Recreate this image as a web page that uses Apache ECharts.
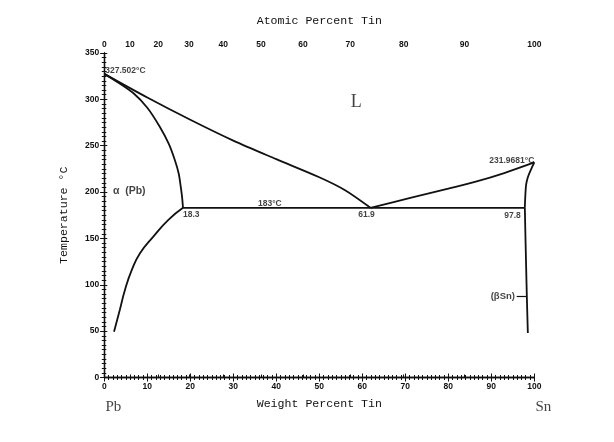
<!DOCTYPE html>
<html>
<head>
<meta charset="utf-8">
<script src="https://cdn.jsdelivr.net/npm/echarts@6/dist/echarts.min.js"></script>
<style>
html,body{margin:0;padding:0;background:#fff;}
#chart{width:614px;height:442px;}
</style>
</head>
<body>
<div id="chart"></div>
<script>
// ---- Data (weight percent Sn, temperature °C) ----
const liquidusPb = [[0,327.502],[10,302],[20,278],[30,255.5],[40,235.5],[50,216],[56,202],[61.9,183]];
const solidusPb  = [[0,327.502],[3.3,318],[6.8,306.6],[10,291],[12.9,270.5],[15,252],[16.4,234.6],[17.3,220],[17.8,205],[18.1,194],[18.3,183]];
const solvusPb   = [[18.3,183],[14.9,170],[11.4,152],[8.3,134],[6.4,116],[4.8,94.4],[3.6,72.8],[2.26,49.4]];
const eutectic   = [[18.3,183],[97.8,183]];
const liquidusSn = [[61.9,183],[71.4,194],[80,203.8],[86.6,211.5],[93,220.5],[100,231.9681]];
const solidusSn  = [[100,231.9681],[99.2,224],[98.5,216],[98.1,208],[97.9,195],[97.8,183]];
const solvusSn   = [[97.8,183],[97.95,150],[98.1,120],[98.25,90],[98.5,48]];

// annotations
const annotationLabels = ['327.502°C','18.3','183°C','61.9','231.9681°C','97.8','L','α  (Pb)','(βSn)'];
const annotationX      = [0, 18.3, 38.5, 61.9, 100, 97.8, 58.6, 2.0, 95.5];
const annotationY      = [327.502, 183, 183, 183, 231.9681, 183, 297, 201, 88];
const arrowFrom = [95.9, 88];
const arrowTo   = [98.2, 88];
const componentLabels = ['Pb','Sn'];
const componentX = [0, 100];

// axes
const weightTicks = [0,10,20,30,40,50,60,70,80,90,100];
const tempTicks = [0,50,100,150,200,250,300,350];
const atomicTicks = [0,10,20,30,40,50,60,70,80,90,100];
const M_SN = 118.71, M_PB = 207.2;
const atomicToWeight = a => a === 0 ? 0 : 100 * a * M_SN / (a * M_SN + (100 - a) * M_PB);
const atomicPositions = atomicTicks.map(atomicToWeight);

// ---- styles ----
const INK = '#111';
const tickFont = {fontSize: 8.5, fontWeight: 'bold', color: INK, fontFamily: 'Liberation Sans, Arial, sans-serif'};
const titleFont = {fontSize: 11.6, color: INK, fontFamily: 'Liberation Mono, Courier New, monospace'};

const annotationStyles = [
  {align:'left',  verticalAlign:'middle', offset:[1,-3], fontSize:8.5, fontWeight:'bold'},
  {align:'left',  verticalAlign:'top',    offset:[0,2],  fontSize:8.5, fontWeight:'bold'},
  {align:'center',verticalAlign:'bottom', offset:[0,0],  fontSize:8.5, fontWeight:'bold'},
  {align:'center',verticalAlign:'top',    offset:[-4,2], fontSize:8.5, fontWeight:'bold'},
  {align:'right', verticalAlign:'bottom', offset:[0,3],  fontSize:8.5, fontWeight:'bold'},
  {align:'right', verticalAlign:'top',    offset:[-4,3], fontSize:8.5, fontWeight:'bold'},
  {align:'center',verticalAlign:'middle', offset:[0,0],  fontSize:18, fontWeight:'normal', fontFamily:'Liberation Serif, DejaVu Serif, serif'},
  {align:'left',  verticalAlign:'middle', offset:[0,0],  fontSize:10.5, fontWeight:'bold'},
  {align:'right', verticalAlign:'middle', offset:[0,0],  fontSize:9.5, fontWeight:'bold'}
];

const annotationData = annotationLabels.map((t, i) => ({
  value: [annotationX[i], annotationY[i]],
  label: Object.assign({show:true, position:'inside', formatter: t, color: INK,
    fontFamily:'Liberation Sans, Arial, sans-serif'}, annotationStyles[i])
}));
const componentData = componentLabels.map((t, i) => ({
  value: [componentX[i], 0],
  label: {show:true, position:'inside', formatter:t, color:INK, align:'center', verticalAlign:'middle',
    offset:[9, 30], fontSize:15, fontFamily:'Liberation Serif, DejaVu Serif, serif'}
}));

function curve(data, smooth) {
  return {type:'line', data, xAxisIndex:0, yAxisIndex:0, symbol:'none', smooth: smooth == null ? 0.3 : smooth,
    lineStyle:{color:INK, width:1.8}, animation:false, silent:true, clip:false, z:3};
}

const chart = echarts.init(document.getElementById('chart'), null, {renderer:'canvas'});
const axisLine = {show:true, lineStyle:{color:INK, width:1.3}};

chart.setOption({
  backgroundColor:'#fff',
  animation:false,
  grid:{left:104.3, right:79.7, top:53, bottom:64.5, containLabel:false},
  xAxis:[
    {type:'value', position:'bottom', min:0, max:100, interval:10,
     axisLine, axisTick:{show:true, inside:true, length:4, lineStyle:{color:INK}},
     minorTick:{show:true, splitNumber:10, length:2.5, lineStyle:{color:INK}},
     axisLabel:Object.assign({margin:5, formatter: v => weightTicks.includes(v) ? String(v) : ''}, tickFont),
     splitLine:{show:false},
     name:'Weight Percent Tin', nameLocation:'middle', nameGap:20, nameTextStyle:titleFont},
    {type:'value', position:'top', min:0, max:100, interval:10,
     axisLine, axisTick:{show:true, inside:true, length:4, lineStyle:{color:INK}},
     minorTick:{show:true, splitNumber:10, length:2.5, lineStyle:{color:INK}},
     axisLabel:{show:false}, splitLine:{show:false}},
    {type:'value', position:'top', min:0, max:100,
     axisLine:{show:false},
     axisTick:{show:true, inside:false, length:3, customValues:atomicPositions, lineStyle:{color:INK}},
     axisLabel:Object.assign({margin:4, customValues:atomicPositions,
       formatter: v => {
         let best = 0, bd = 1e9;
         atomicPositions.forEach((p, i) => { const d = Math.abs(p - v); if (d < bd) { bd = d; best = i; } });
         return String(atomicTicks[best]);
       }}, tickFont),
     splitLine:{show:false},
     name:'Atomic Percent Tin', nameLocation:'middle', nameGap:26, nameTextStyle:titleFont}
  ],
  yAxis:[
    {type:'value', position:'left', min:0, max:350, interval:50,
     axisLine, axisTick:{show:true, inside:false, length:4, lineStyle:{color:INK}},
     axisLabel:Object.assign({margin:5, formatter: v => tempTicks.includes(v) ? String(v) : ''}, tickFont),
     splitLine:{show:false},
     name:'Temperature °C', nameLocation:'middle', nameGap:34, nameTextStyle:titleFont},
    {type:'value', position:'left', min:0, max:350, interval:50,
     axisLine:{show:false}, axisTick:{show:true, inside:true, length:3, lineStyle:{color:INK}},
     minorTick:{show:true, splitNumber:10, length:2, lineStyle:{color:INK}},
     axisLabel:{show:false}, splitLine:{show:false}},
    {type:'value', position:'right', min:0, max:350, interval:50,
     axisLine, axisTick:{show:true, inside:true, length:4, lineStyle:{color:INK}},
     minorTick:{show:true, splitNumber:10, length:2.5, lineStyle:{color:INK}},
     axisLabel:{show:false}, splitLine:{show:false}}
  ],
  series:[
    curve(liquidusPb), curve(solidusPb), curve(solvusPb, 0.5),
    curve(eutectic, false),
    curve(liquidusSn), curve(solidusSn), curve(solvusSn),
    {type:'scatter', xAxisIndex:0, yAxisIndex:0, symbolSize:0, clip:false, silent:true, animation:false,
     data: annotationData.concat(componentData), z:5,
     markLine:{silent:true, animation:false, symbol:['none','arrow'], symbolSize:[0,6],
       label:{show:false}, lineStyle:{color:INK, width:1.2, type:'solid'},
       data:[[{coord:arrowFrom}, {coord:arrowTo}]]}}
  ]
});
</script>
</body>
</html>
